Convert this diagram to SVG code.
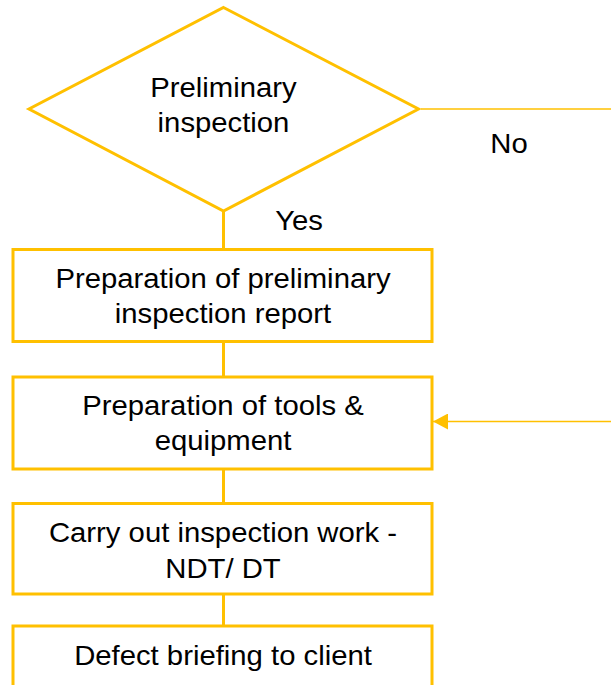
<svg xmlns="http://www.w3.org/2000/svg" width="611" height="685" viewBox="0 0 611 685">
  <style>
    .shape { fill: #ffffff; stroke: #ffc000; stroke-width: 3; }
    .link { fill: none; stroke: #ffc000; stroke-width: 3; }
    .thin { fill: none; stroke: #ffc000; stroke-width: 1.4; }
    text { font-family: "Liberation Sans", Arial, sans-serif; font-size: 27.5px; fill: #000000; text-anchor: middle; }
  </style>
  <defs>
    <marker id="head" markerUnits="userSpaceOnUse" markerWidth="16" markerHeight="16" viewBox="0 0 16 16" refX="15" refY="8" orient="auto">
      <path d="M0,0 L15,8 L0,16 Z" fill="#ffc000"/>
    </marker>
  </defs>

  <!-- connectors -->
  <g id="connectors">
    <line class="link" x1="223.5" y1="211" x2="223.5" y2="249"/>
    <line class="link" x1="223.5" y1="342" x2="223.5" y2="377"/>
    <line class="link" x1="223.5" y1="469" x2="223.5" y2="504"/>
    <line class="link" x1="223.5" y1="594" x2="223.5" y2="626"/>
    <line class="thin" x1="421" y1="109" x2="611" y2="109"/>
    <line class="thin" x1="611" y1="421.5" x2="433" y2="421.5" marker-end="url(#head)"/>
    <g transform="translate(509,153) scale(1.065,1)"><text x="0" y="0">No</text></g>
    <g transform="translate(299,230) scale(1.065,1)"><text x="0" y="0">Yes</text></g>
  </g>

  <!-- decision -->
  <g id="preliminary-inspection">
    <polygon class="shape" points="223.5,7.5 418.5,109 223.5,211 29,109"/>
    <g transform="translate(223.5,0) scale(1.065,1)">
      <text x="0" y="97">Preliminary</text>
      <text x="0" y="132">inspection</text>
    </g>
  </g>

  <g id="preliminary-report">
    <rect class="shape" x="13" y="249.5" width="419" height="92"/>
    <g transform="translate(223,0) scale(1.065,1)">
      <text x="0" y="288">Preparation of preliminary</text>
      <text x="0" y="323">inspection report</text>
    </g>
  </g>

  <g id="tools-equipment">
    <rect class="shape" x="13" y="377" width="419" height="92"/>
    <g transform="translate(223,0) scale(1.065,1)">
      <text x="0" y="415">Preparation of tools &amp;</text>
      <text x="0" y="450">equipment</text>
    </g>
  </g>

  <g id="inspection-work">
    <rect class="shape" x="13" y="503.5" width="419" height="90.5"/>
    <g transform="translate(223,0) scale(1.065,1)">
      <text x="0" y="542">Carry out inspection work -</text>
      <text x="0" y="578">NDT/ DT</text>
    </g>
  </g>

  <g id="defect-briefing">
    <rect class="shape" x="13" y="626" width="419" height="100"/>
    <g transform="translate(223,0) scale(1.065,1)">
      <text x="0" y="665">Defect briefing to client</text>
    </g>
  </g>
</svg>
